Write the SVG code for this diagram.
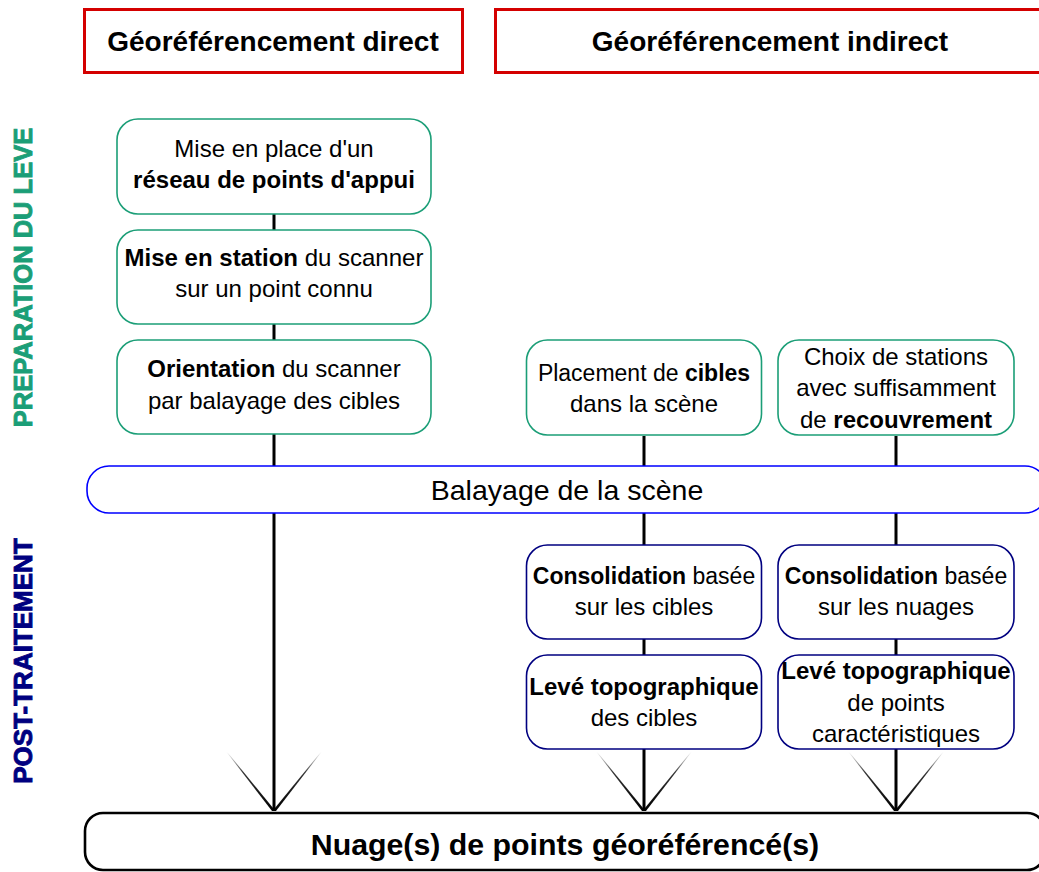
<svg xmlns="http://www.w3.org/2000/svg" width="1039" height="872" viewBox="0 0 1039 872">
<style>
text{font-family:"Liberation Sans",Arial,sans-serif;fill:#000;text-anchor:middle}
.b{font-weight:bold}
.hdr{fill:#fff;stroke:#d40000;stroke-width:3}
.prep{fill:#fff;stroke:#1b9e77;stroke-width:1.6}
.post{fill:#fff;stroke:#000080;stroke-width:1.6}
.scan{fill:#fff;stroke:#0000ff;stroke-width:1.6}
.out{fill:#fff;stroke:#000;stroke-width:2.6}
.t{font-size:24px}
.t23{font-size:23px}
.side{font-weight:bold;stroke-width:0.9}
.conn line{stroke:#000;stroke-width:3}
</style>
<defs>
<linearGradient id="fade" x1="0" y1="0" x2="0" y2="1">
<stop offset="0" stop-color="#000" stop-opacity="0"/>
<stop offset="0.35" stop-color="#000" stop-opacity="0.8"/>
<stop offset="1" stop-color="#000"/>
</linearGradient>
<g id="vhead">
<polygon points="-47.5,-59 -46.8,-59 1.5,0 -2,0" fill="url(#fade)"/>
<polygon points="47.5,-59 46.8,-59 -1.5,0 2,0" fill="url(#fade)"/>
</g>
</defs>

<g id="connectors" class="conn">
<line x1="274" y1="214" x2="274" y2="811"/>
<line x1="644" y1="436" x2="644" y2="811"/>
<line x1="896" y1="436" x2="896" y2="811"/>
<use href="#vhead" x="274" y="811"/>
<use href="#vhead" x="644" y="811"/>
<use href="#vhead" x="896" y="811"/>
</g>

<g id="label-prep">
<text class="side" font-size="25.5" transform="translate(32,277.5) rotate(-90)" style="fill:#1b9e77;stroke:#1b9e77">PREPARATION DU LEVE</text>
</g>
<g id="label-post">
<text class="side" font-size="26" transform="translate(32,661) rotate(-90)" style="fill:#000080;stroke:#000080">POST-TRAITEMENT</text>
</g>

<g id="hdr-direct">
<rect class="hdr" x="84.5" y="9.5" width="378" height="63"/>
<text class="b" font-size="28" x="273" y="51">Géoréférencement direct</text>
</g>
<g id="hdr-indirect">
<rect class="hdr" x="495.5" y="9.5" width="550" height="63"/>
<text class="b" font-size="28" x="770" y="51">Géoréférencement indirect</text>
</g>

<g id="n-reseau">
<rect class="prep" x="117" y="119" width="314" height="95" rx="21"/>
<text class="t" x="274" y="157">Mise en place d'un</text>
<text class="t b" x="274" y="188">réseau de points d'appui</text>
</g>
<g id="n-station">
<rect class="prep" x="117" y="230" width="314" height="94" rx="21"/>
<text class="t" x="274" y="266"><tspan class="b">Mise en station</tspan> du scanner</text>
<text class="t" x="274" y="297">sur un point connu</text>
</g>
<g id="n-orientation">
<rect class="prep" x="117" y="340" width="314" height="94" rx="21"/>
<text class="t" x="274" y="377"><tspan class="b">Orientation</tspan> du scanner</text>
<text class="t" x="274" y="409">par balayage des cibles</text>
</g>
<g id="n-placement">
<rect class="prep" x="526.5" y="340" width="235" height="95" rx="21"/>
<text class="t23" x="644" y="381">Placement de <tspan class="b">cibles</tspan></text>
<text class="t" x="644" y="412">dans la scène</text>
</g>
<g id="n-choix">
<rect class="prep" x="778" y="340" width="236" height="95" rx="21"/>
<text class="t" x="896" y="365">Choix de stations</text>
<text class="t" x="896" y="396">avec suffisamment</text>
<text class="t" x="896" y="428">de <tspan class="b">recouvrement</tspan></text>
</g>

<g id="n-balayage">
<rect class="scan" x="87" y="466" width="960" height="47" rx="22"/>
<text font-size="28.5" x="567" y="500">Balayage de la scène</text>
</g>

<g id="n-consol-cibles">
<rect class="post" x="526.5" y="545" width="235" height="94" rx="21"/>
<text class="t23" x="644" y="584"><tspan class="b">Consolidation</tspan> basée</text>
<text class="t" x="644" y="615">sur les cibles</text>
</g>
<g id="n-consol-nuages">
<rect class="post" x="778" y="545" width="236" height="94" rx="21"/>
<text class="t23" x="896" y="584"><tspan class="b">Consolidation</tspan> basée</text>
<text class="t" x="896" y="615">sur les nuages</text>
</g>
<g id="n-leve-cibles">
<rect class="post" x="526.5" y="655" width="235" height="94" rx="21"/>
<text class="t b" x="644" y="695">Levé topographique</text>
<text class="t" x="644" y="726">des cibles</text>
</g>
<g id="n-leve-points">
<rect class="post" x="778" y="655" width="236" height="94" rx="21"/>
<text class="t b" x="896" y="679">Levé topographique</text>
<text class="t" x="896" y="711">de points</text>
<text class="t" x="896" y="742">caractéristiques</text>
</g>

<g id="n-nuage">
<rect class="out" x="85" y="813" width="960" height="57" rx="18"/>
<text class="b" font-size="30.3" x="565" y="855">Nuage(s) de points géoréférencé(s)</text>
</g>
</svg>
